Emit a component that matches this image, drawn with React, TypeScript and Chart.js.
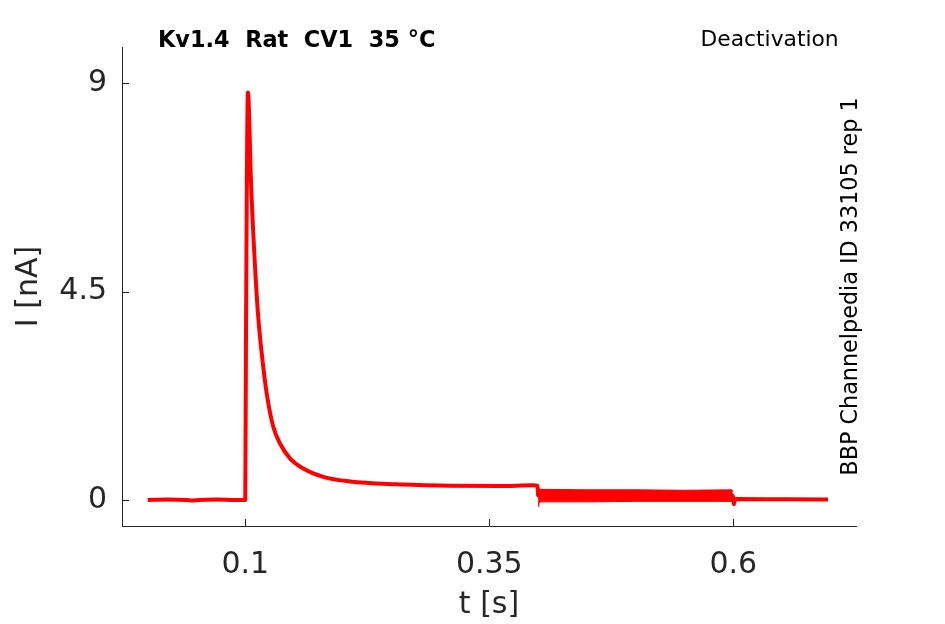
import React, { useEffect, useRef } from 'react';
import { Chart, registerables } from 'chart.js';

Chart.register(...registerables);

// recorded current trace, time in s, current in nA
const traceTime = [
  0, 0.02, 0.04, 0.046, 0.052, 0.07, 0.09, 0.1, 0.1007, 0.1027, 0.1031,
  0.1058, 0.1089, 0.113, 0.1184, 0.1225, 0.1287, 0.1356, 0.1458,
  0.1594, 0.1799, 0.2073, 0.2551, 0.31, 0.361, 0.394, 0.3995, 0.4,
  0.45, 0.5, 0.55, 0.5995, 0.6, 0.6006, 0.602, 0.65, 0.697,
];
const traceCurrent = [
  0, 0.01, 0, -0.01, 0, 0.01, 0, 0, 3.4, 8.8, 8.76,
  6.91, 5.47, 4.03, 2.88, 2.23, 1.58, 1.22, 0.9,
  0.68, 0.5, 0.4, 0.34, 0.31, 0.3, 0.32, 0.31, 0.1,
  0.09, 0.09, 0.09, 0.09, 0.02, -0.09, 0.02, 0.015, 0.01,
];

// noisy envelope during the tail pulse
const bandTime = [0.4, 0.4008, 0.403, 0.45, 0.5, 0.55, 0.598, 0.5995];
const bandUpper = [0.24, 0.24, 0.23, 0.22, 0.22, 0.21, 0.22, 0.2];
const bandLower = [-0.14, -0.06, -0.04, -0.04, -0.03, -0.03, -0.03, -0.07];

const xTicks = [0.1, 0.35, 0.6];
const yTicks = [0, 4.5, 9];

const chartTitle = 'Kv1.4  Rat  CV1  35 °C';
const protocolLabel = 'Deactivation';
const sourceLabel = 'BBP Channelpedia ID 33105 rep 1';

const AXIS = '#262626';
const RED = '#ff0000';
const FONT = "'DejaVu Sans', sans-serif";

const decorations = {
  id: 'decorations',
  afterDraw(chart: Chart) {
    const { ctx, scales } = chart;
    const xs = scales.x;
    const ys = scales.y;
    ctx.save();
    // inward tick marks
    ctx.strokeStyle = AXIS;
    ctx.lineWidth = 1;
    ctx.beginPath();
    xTicks.forEach(v => {
      const px = Math.round(xs.getPixelForValue(v)) + 0.5;
      ctx.moveTo(px, ys.bottom);
      ctx.lineTo(px, ys.bottom - 7);
    });
    yTicks.forEach(v => {
      const py = Math.round(ys.getPixelForValue(v)) + 0.5;
      ctx.moveTo(xs.left, py);
      ctx.lineTo(xs.left + 7, py);
    });
    ctx.stroke();

    ctx.fillStyle = '#000';
    ctx.textBaseline = 'alphabetic';
    ctx.textAlign = 'left';
    ctx.font = `bold 22.4px ${FONT}`;
    ctx.fillText(chartTitle, 158, 46.5);
    ctx.font = `21.8px ${FONT}`;
    ctx.fillText(protocolLabel, 700.5, 46);

    ctx.translate(857, 286.5);
    ctx.rotate(-Math.PI / 2);
    ctx.textAlign = 'center';
    ctx.font = `22.3px ${FONT}`;
    ctx.fillText(sourceLabel, 0, 0);
    ctx.restore();
  },
};

export default function App() {
  const canvasRef = useRef<HTMLCanvasElement>(null);

  useEffect(() => {
    if (!canvasRef.current) return;
    const chart = new Chart(canvasRef.current, {
      type: 'line',
      data: {
        datasets: [
          {
            data: bandTime.map((t, i) => ({ x: t, y: bandUpper[i] })),
            borderColor: RED,
            borderWidth: 1,
            pointRadius: 0,
            fill: false,
          },
          {
            data: bandTime.map((t, i) => ({ x: t, y: bandLower[i] })),
            borderColor: RED,
            backgroundColor: RED,
            borderWidth: 1,
            pointRadius: 0,
            fill: '-1',
          },
          {
            data: traceTime.map((t, i) => ({ x: t, y: traceCurrent[i] })),
            borderColor: RED,
            borderWidth: 4,
            borderJoinStyle: 'round',
            cubicInterpolationMode: 'monotone',
            pointRadius: 0,
            fill: false,
          },
        ],
      },
      options: {
        responsive: false,
        animation: false,
        layout: { padding: { top: 47, right: 89, left: 0, bottom: 0 } },
        plugins: {
          legend: { display: false },
          tooltip: { enabled: false },
        },
        scales: {
          x: {
            type: 'linear',
            min: -0.0263,
            max: 0.7257,
            grid: { display: false, drawTicks: false },
            border: { display: true, color: AXIS, width: 1 },
            afterBuildTicks: (scale: any) => {
              scale.ticks = xTicks.map(v => ({ value: v }));
            },
            afterFit: (scale: any) => {
              scale.height = 98;
            },
            ticks: {
              color: AXIS,
              padding: 21,
              font: { family: FONT, size: 30 },
              callback: (v: any) => String(v),
            },
            title: {
              display: true,
              text: 't [s]',
              color: AXIS,
              font: { family: FONT, size: 30 },
              padding: { top: 0, bottom: 1 },
            },
          },
          y: {
            type: 'linear',
            min: -0.5616,
            max: 9.784,
            grid: { display: false, drawTicks: false },
            border: { display: true, color: AXIS, width: 1 },
            afterBuildTicks: (scale: any) => {
              scale.ticks = yTicks.map(v => ({ value: v }));
            },
            afterFit: (scale: any) => {
              scale.width = 122;
            },
            ticks: {
              color: AXIS,
              padding: 15,
              font: { family: FONT, size: 30 },
              callback: (v: any) => String(v),
            },
            title: {
              display: true,
              text: 'I [nA]',
              color: AXIS,
              font: { family: FONT, size: 30 },
              padding: { top: 11, bottom: 0 },
            },
          },
        },
      },
      plugins: [decorations],
    });
    return () => chart.destroy();
  }, []);

  return (
    <div style={{ position: 'absolute', left: 0, top: 0, width: 945, height: 624, background: '#fff' }}>
      <canvas ref={canvasRef} width={945} height={624} style={{ display: 'block' }} />
    </div>
  );
}
